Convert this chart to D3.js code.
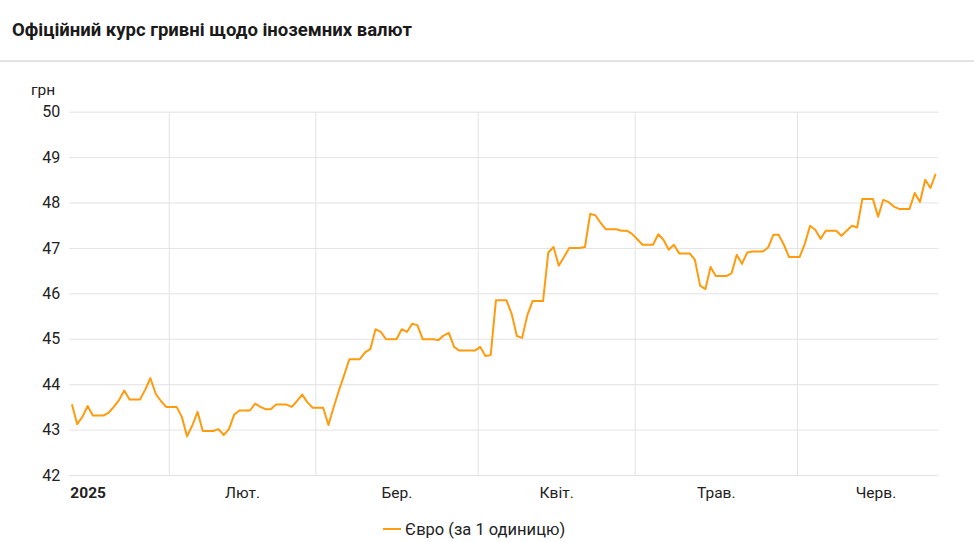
<!DOCTYPE html>
<html>
<head>
<meta charset="utf-8">
<script src="https://cdn.jsdelivr.net/npm/d3@7"></script>
<style>
  body { margin: 0; background: #fff; }
  svg { display: block; font-family: Roboto, "Noto Sans", sans-serif; }
</style>
</head>
<body>
<script>
// курс євро (НБУ), точки зміни курсу
const dates = [
  "2025-01-13","2025-01-14","2025-01-15","2025-01-16","2025-01-17","2025-01-19","2025-01-20","2025-01-21",
  "2025-01-22","2025-01-23","2025-01-24","2025-01-26","2025-01-27","2025-01-28","2025-01-29","2025-01-30",
  "2025-01-31","2025-02-02","2025-02-03","2025-02-04","2025-02-05","2025-02-06","2025-02-07","2025-02-09",
  "2025-02-10","2025-02-11","2025-02-12","2025-02-13","2025-02-14","2025-02-16","2025-02-17","2025-02-18",
  "2025-02-19","2025-02-20","2025-02-21","2025-02-23","2025-02-24","2025-02-25","2025-02-26","2025-02-27",
  "2025-02-28","2025-03-02","2025-03-03","2025-03-04","2025-03-05","2025-03-06","2025-03-07","2025-03-09",
  "2025-03-10","2025-03-11","2025-03-12","2025-03-13","2025-03-14","2025-03-16","2025-03-17","2025-03-18",
  "2025-03-19","2025-03-20","2025-03-21","2025-03-23","2025-03-24","2025-03-25","2025-03-26","2025-03-27",
  "2025-03-28","2025-03-31","2025-04-01","2025-04-02","2025-04-03","2025-04-04","2025-04-06","2025-04-07",
  "2025-04-08","2025-04-09","2025-04-10","2025-04-11","2025-04-13","2025-04-14","2025-04-15","2025-04-16",
  "2025-04-17","2025-04-18","2025-04-20","2025-04-21","2025-04-22","2025-04-23","2025-04-24","2025-04-25",
  "2025-04-27","2025-04-28","2025-04-29","2025-04-30","2025-05-01","2025-05-02","2025-05-04","2025-05-05",
  "2025-05-06","2025-05-07","2025-05-08","2025-05-09","2025-05-11","2025-05-12","2025-05-13","2025-05-14",
  "2025-05-15","2025-05-16","2025-05-18","2025-05-19","2025-05-20","2025-05-21","2025-05-22","2025-05-23",
  "2025-05-25","2025-05-26","2025-05-27","2025-05-28","2025-05-29","2025-05-30","2025-06-01","2025-06-02",
  "2025-06-03","2025-06-04","2025-06-05","2025-06-06","2025-06-08","2025-06-09","2025-06-10","2025-06-11",
  "2025-06-12","2025-06-13","2025-06-15","2025-06-16","2025-06-17","2025-06-18","2025-06-19","2025-06-20",
  "2025-06-22","2025-06-23","2025-06-24","2025-06-25","2025-06-26","2025-06-27"
];
const rates = [
  43.56,43.12,43.28,43.52,43.31,43.31,43.37,43.50,
  43.65,43.86,43.66,43.66,43.88,44.13,43.79,43.63,
  43.50,43.50,43.28,42.85,43.09,43.39,42.97,42.97,
  43.01,42.88,43.01,43.33,43.42,43.42,43.57,43.50,
  43.45,43.45,43.55,43.55,43.50,43.63,43.77,43.60,
  43.48,43.48,43.10,43.49,43.86,44.20,44.55,44.55,
  44.70,44.77,45.21,45.15,44.99,44.99,45.21,45.15,
  45.33,45.30,44.99,44.99,44.97,45.07,45.13,44.82,
  44.74,44.74,44.82,44.62,44.64,45.85,45.85,45.55,
  45.06,45.02,45.52,45.83,45.83,46.90,47.02,46.61,
  46.80,47.00,47.00,47.02,47.75,47.72,47.55,47.41,
  47.41,47.38,47.38,47.31,47.19,47.07,47.07,47.30,
  47.18,46.96,47.07,46.88,46.88,46.74,46.17,46.09,
  46.58,46.38,46.38,46.44,46.85,46.65,46.90,46.92,
  46.92,47.01,47.29,47.29,47.07,46.80,46.80,47.09,
  47.49,47.40,47.20,47.38,47.38,47.27,47.38,47.49,
  47.45,48.08,48.08,47.69,48.06,48.01,47.91,47.86,
  47.86,48.21,48.01,48.50,48.32,48.63
];
const yTicks = [42, 43, 44, 45, 46, 47, 48, 49, 50];
const monthLabels = ["2025", "Лют.", "Бер.", "Квіт.", "Трав.", "Черв."];
const seriesName = "Євро (за 1 одиницю)";
const titleText = "Офіційний курс гривні щодо іноземних валют";

const w = 974, h = 542;
const plotLeft = 69.3, plotRight = 938.3, plotTop = 111.7, plotBottom = 475;
const lineColor = "#ff9b0f";
const textColor = "#222";

const parse = d3.timeParse("%Y-%m-%d");
const data = dates.map((d, i) => {
  const t = parse(d);
  t.setHours(12);
  return { date: t, value: rates[i] };
});

const xScale = d3.scaleTime()
  .domain([new Date(2025, 0, 13), new Date(2025, 5, 28)])
  .range([plotLeft, plotRight]);
const yScale = d3.scaleLinear()
  .domain([42, 50])
  .range([plotBottom, plotTop]);

const svg = d3.select("body").append("svg")
  .attr("width", w)
  .attr("height", h);

svg.append("text")
  .attr("x", 12)
  .attr("y", 36)
  .attr("font-size", 18.5)
  .attr("font-weight", "bold")
  .attr("fill", "#1a1a1a")
  .text(titleText);

svg.append("rect")
  .attr("x", 0).attr("y", 60)
  .attr("width", w).attr("height", 2)
  .attr("fill", "#e2e2e2");

// horizontal grid + y labels
const yAxis = d3.axisLeft(yScale).tickValues(yTicks).tickSize(-(plotRight - plotLeft)).tickPadding(9);
const gy = svg.append("g")
  .attr("transform", "translate(" + plotLeft + ",0)")
  .call(yAxis);
gy.select(".domain").remove();
gy.selectAll(".tick line").attr("stroke", "#e3e3e3");
gy.selectAll(".tick text")
  .attr("font-size", 16)
  .attr("fill", textColor)
  .attr("font-family", "Roboto, sans-serif");

svg.append("text")
  .attr("x", 31)
  .attr("y", 95)
  .attr("font-size", 15.5)
  .attr("fill", textColor)
  .text("грн");

// vertical month grid
const monthStarts = d3.timeMonth.range(new Date(2025, 1, 1), new Date(2025, 5, 2));
const gx = svg.append("g")
  .attr("transform", "translate(0," + plotBottom + ")")
  .call(d3.axisBottom(xScale).tickValues(monthStarts).tickSize(-(plotBottom - plotTop)).tickFormat(""));
gx.select(".domain").remove();
gx.selectAll(".tick line").attr("stroke", "#e3e3e3");

// month labels at month midpoints
const monthMids = d3.timeMonth.range(new Date(2025, 0, 1), new Date(2025, 6, 1))
  .map(m => new Date((m.getTime() + d3.timeMonth.offset(m, 1).getTime()) / 2));
const gl = svg.append("g")
  .attr("transform", "translate(0," + plotBottom + ")")
  .call(d3.axisBottom(xScale).tickValues(monthMids).tickSize(0).tickPadding(12)
    .tickFormat((d, i) => monthLabels[i]));
gl.select(".domain").remove();
gl.selectAll(".tick text")
  .attr("font-size", 15.5)
  .attr("fill", textColor)
  .attr("font-family", "Roboto, sans-serif")
  .attr("font-weight", (d, i) => i === 0 ? "bold" : "normal");

const line = d3.line()
  .x(d => xScale(d.date))
  .y(d => yScale(d.value));

svg.append("path")
  .datum(data)
  .attr("fill", "none")
  .attr("stroke", lineColor)
  .attr("stroke-width", 2)
  .attr("stroke-linejoin", "round")
  .attr("d", line);

// legend
const legend = svg.append("g").attr("transform", "translate(383,529)");
legend.append("line")
  .attr("x1", 0).attr("x2", 18)
  .attr("stroke", lineColor)
  .attr("stroke-width", 2);
legend.append("text")
  .attr("x", 22)
  .attr("dy", "0.35em")
  .attr("font-size", 16.5)
  .attr("fill", textColor)
  .text(seriesName);
</script>
</body>
</html>
